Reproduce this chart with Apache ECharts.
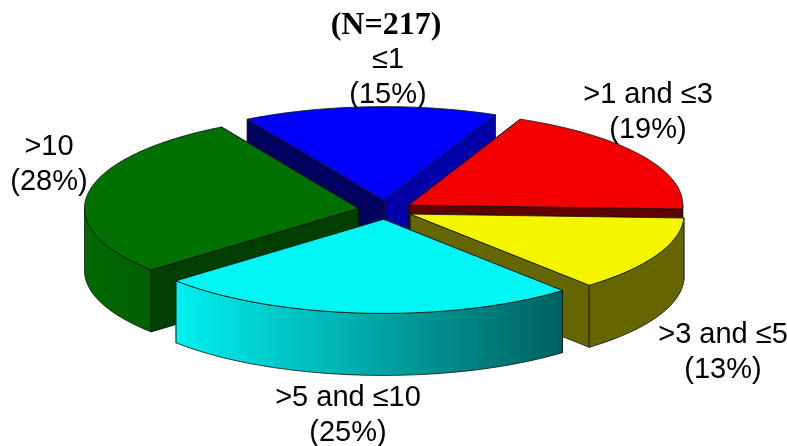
<!DOCTYPE html>
<html>
<head>
<meta charset="UTF-8">
<title></title>
<script src="https://cdn.jsdelivr.net/npm/echarts@6/dist/echarts.min.js"></script>
<style>
html, body { margin: 0; padding: 0; background: #fff; }
#chart { width: 787px; height: 446px; }
</style>
</head>
<body>
<div id="chart"></div>
<script type="text/javascript">
// chart values, clockwise from the first slice
var categories = ['≤1', '>1 and ≤3', '>3 and ≤5', '>5 and ≤10', '>10'];
var percents = [15, 19, 13, 25, 28];
var sampleNote = '(N=217)';

// styles, same order as categories
var topColors = ['#0000ff', '#f50000', '#f5f500', '#00f5f5', '#007000'];
var startWallColors = ['#00005f', '#600000', '#666600', '#006060', '#003f00'];
var endWallColors = ['#0000a8', '#600000', '#666600', '#006060', '#003f00'];
var outerStops = [
    ['#0000a8', '#0000a8'],
    ['#600000', '#600000'],
    ['#666600', '#666600'],
    ['#00f0f0', '#006060'],
    ['#006a00', '#006000']
];
var labelCenters = [[388, 77], [648, 112], [723, 352], [348, 415], [49, 164]];

var START_ANGLE = -30;    // degrees clockwise from the top
var EXPLODE = 0.1;        // share of the radius
var DEPTH = 0.66;         // wall height in y units

// walk the percents into angle ranges
var slices = [];
var total = percents.reduce(function (a, b) { return a + b; }, 0);
var acc = START_ANGLE;
percents.forEach(function (p, i) {
    var sweep = p / total * 360;
    slices.push({ index: i, from: acc, to: acc + sweep });
    acc += sweep;
});
// back slices first, so the front ones paint over them
slices.sort(function (a, b) {
    return Math.cos(rad((a.from + a.to) / 2)) > Math.cos(rad((b.from + b.to) / 2)) ? -1 : 1;
});

function rad(d) { return d * Math.PI / 180; }

function renderSlice(params, api) {
    var s = slices[api.value(0)];
    var i = s.index;
    var mid = rad((s.from + s.to) / 2);
    var ox = Math.sin(mid) * EXPLODE;
    var oy = Math.cos(mid) * EXPLODE;

    function top(angle) {
        return api.coord([ox + Math.sin(rad(angle)), oy + Math.cos(rad(angle))]);
    }
    function bottom(pt) {
        return [pt[0], pt[1] + depthPx];
    }
    var apex = api.coord([ox, oy]);
    var depthPx = api.size([0, DEPTH])[1];

    function arc(a, b) {
        var pts = [];
        var n = Math.max(2, Math.ceil(Math.abs(b - a) / 1.5));
        for (var k = 0; k <= n; k++) {
            pts.push(top(a + (b - a) * k / n));
        }
        return pts;
    }
    function poly(points, fill) {
        return {
            type: 'polygon',
            shape: { points: points },
            style: { fill: fill, stroke: '#111', lineWidth: 0.8, lineJoin: 'round' }
        };
    }
    function wall(angle, fill) {
        var e = top(angle);
        return poly([apex, e, bottom(e), bottom(apex)], fill);
    }

    // the cut wall further back goes first
    var startWall = wall(s.from, startWallColors[i]);
    var endWall = wall(s.to, endWallColors[i]);
    var children = Math.cos(rad(s.from)) > Math.cos(rad(s.to)) ? [startWall, endWall] : [endWall, startWall];

    // outer wall only shows on the front half of the rim
    var a = Math.max(s.from, 90);
    var b = Math.min(s.to, 270);
    if (b > a) {
        var rim = arc(a, b);
        var pts = rim.concat(rim.map(bottom).reverse());
        children.push(poly(pts, {
            type: 'linear', x: 0, y: 0, x2: 1, y2: 0,
            colorStops: [
                { offset: 0, color: outerStops[i][0] },
                { offset: 1, color: outerStops[i][1] }
            ]
        }));
    }
    children.push(poly([apex].concat(arc(s.from, s.to)), topColors[i]));
    return { type: 'group', children: children };
}

var labelGraphics = categories.map(function (name, i) {
    return {
        type: 'text',
        z: 10,
        x: labelCenters[i][0],
        y: labelCenters[i][1],
        style: {
            text: name + '\n(' + percents[i] + '%)',
            font: '29px "Liberation Sans", Arial, sans-serif',
            lineHeight: 35,
            fill: '#000',
            align: 'center',
            verticalAlign: 'middle'
        }
    };
});

var chart = echarts.init(document.getElementById('chart'));
chart.setOption({
    animation: false,
    grid: { left: 111.5, top: 116, width: 548, height: 188 },
    xAxis: { type: 'value', min: -1, max: 1, show: false },
    yAxis: { type: 'value', min: -1, max: 1, show: false },
    graphic: labelGraphics.concat([{
        type: 'text',
        z: 10,
        x: 386,
        y: 26,
        style: {
            text: sampleNote,
            font: 'bold 32px "Liberation Serif", "Times New Roman", serif',
            fill: '#000',
            align: 'center',
            verticalAlign: 'middle'
        }
    }]),
    series: [{
        type: 'custom',
        coordinateSystem: 'cartesian2d',
        clip: false,
        silent: true,
        renderItem: renderSlice,
        encode: { x: 0, y: 0 },
        data: slices.map(function (s, k) { return [k]; })
    }]
});
</script>
</body>
</html>
